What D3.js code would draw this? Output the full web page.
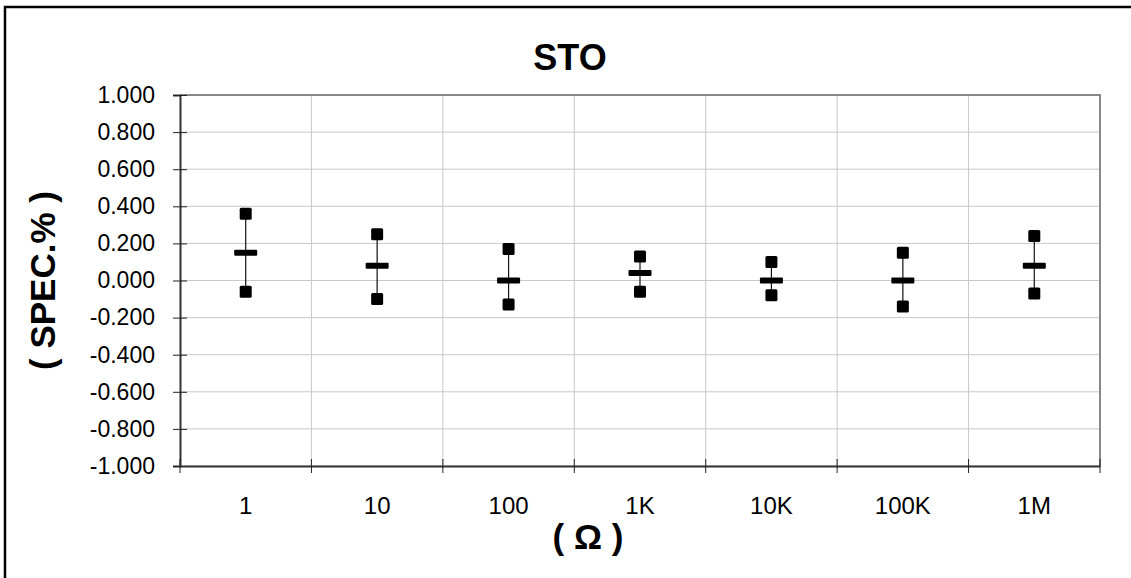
<!DOCTYPE html>
<html>
<head>
<meta charset="utf-8">
<script src="https://cdn.jsdelivr.net/npm/d3@7"></script>
<style>
  body { margin: 0; background: #fff; }
  svg { display: block; font-family: Arial, "Liberation Sans", sans-serif; }
</style>
</head>
<body>
<svg id="chart" width="1131" height="578"></svg>
<script>
const categories = ["1", "10", "100", "1K", "10K", "100K", "1M"];
const maxVals  = [0.36, 0.25, 0.17, 0.13, 0.10, 0.15, 0.24];
const meanVals = [0.15, 0.08, 0.00, 0.04, 0.00, 0.00, 0.08];
const minVals  = [-0.06, -0.10, -0.13, -0.06, -0.08, -0.14, -0.07];
const yTicks = [-1.0, -0.8, -0.6, -0.4, -0.2, 0.0, 0.2, 0.4, 0.6, 0.8, 1.0];

const svg = d3.select("#chart");
const margin = { left: 180, top: 95, right: 1100, bottom: 466 };

// outer frame
svg.append("rect")
   .attr("x", 5).attr("y", 7)
   .attr("width", 1150).attr("height", 600)
   .attr("fill", "none")
   .attr("stroke", "#000")
   .attr("stroke-width", 2.5);

const x = d3.scaleBand()
            .domain(categories)
            .range([margin.left, margin.right])
            .padding(0);
const y = d3.scaleLinear()
            .domain([-1, 1])
            .range([margin.bottom, margin.top]);

// horizontal grid
svg.append("g")
   .selectAll("line")
   .data(yTicks)
   .enter()
   .append("line")
   .attr("x1", margin.left).attr("x2", margin.right)
   .attr("y1", d => y(d)).attr("y2", d => y(d))
   .attr("stroke", "#c8c8c8")
   .attr("stroke-width", 1);

// vertical grid at category boundaries
svg.append("g")
   .selectAll("line")
   .data(categories.slice(1))
   .enter()
   .append("line")
   .attr("x1", d => x(d)).attr("x2", d => x(d))
   .attr("y1", margin.top).attr("y2", margin.bottom)
   .attr("stroke", "#c8c8c8")
   .attr("stroke-width", 1);

// top and right border (gray)
svg.append("path")
   .attr("d", `M${margin.left},${margin.top}H${margin.right}V${margin.bottom}`)
   .attr("fill", "none")
   .attr("stroke", "#888")
   .attr("stroke-width", 2);

// y axis
const fmt = d => d3.format(".3f")(d).replace("\u2212", "-");
const yAxis = svg.append("g")
   .attr("transform", `translate(${margin.left},0)`)
   .call(d3.axisLeft(y)
           .tickValues(yTicks)
           .tickFormat(fmt)
           .tickSize(7)
           .tickPadding(18));
yAxis.select(".domain").attr("stroke", "#333").attr("stroke-width", 2);
yAxis.selectAll(".tick line")
     .attr("x1", 7)
     .attr("stroke", "#222");
yAxis.selectAll(".tick text")
     .attr("font-size", 23)
     .attr("fill", "#000");

// x axis
const xAxis = svg.append("g")
   .attr("transform", `translate(0,${margin.bottom})`)
   .call(d3.axisBottom(x).tickSize(0).tickPadding(31));
xAxis.select(".domain").attr("stroke", "#333").attr("stroke-width", 2);
xAxis.selectAll(".tick text")
     .attr("font-size", 24)
     .attr("fill", "#000");

// x tick marks at boundaries
const bounds = categories.map(c => x(c)).concat([x.range()[1]]);
svg.append("g")
   .selectAll("line")
   .data(bounds)
   .enter()
   .append("line")
   .attr("x1", d => d).attr("x2", d => d)
   .attr("y1", margin.bottom - 7).attr("y2", margin.bottom + 7)
   .attr("stroke", "#222")
   .attr("stroke-width", 1);

// error bars
const pts = categories.map((c, i) => ({
  cat: c, max: maxVals[i], mean: meanVals[i], min: minVals[i]
}));
const cx = d => x(d.cat) + x.bandwidth() / 2;

const marks = svg.append("g");
marks.selectAll(".range")
     .data(pts)
     .enter()
     .append("line")
     .attr("class", "range")
     .attr("x1", cx).attr("x2", cx)
     .attr("y1", d => y(d.max)).attr("y2", d => y(d.min))
     .attr("stroke", "#111")
     .attr("stroke-width", 1.2);

const sq = 12;
["max", "min"].forEach(k => {
  marks.selectAll(".sq-" + k)
       .data(pts)
       .enter()
       .append("rect")
       .attr("class", "sq-" + k)
       .attr("x", d => cx(d) - sq / 2)
       .attr("y", d => y(d[k]) - sq / 2)
       .attr("width", sq).attr("height", sq)
       .attr("rx", 1.5)
       .attr("fill", "#000");
});

marks.selectAll(".mean")
     .data(pts)
     .enter()
     .append("rect")
     .attr("class", "mean")
     .attr("x", d => cx(d) - 11.5)
     .attr("y", d => y(d.mean) - 3)
     .attr("width", 23).attr("height", 6)
     .attr("rx", 1)
     .attr("fill", "#000");

// title and axis labels
svg.append("text")
   .attr("x", 570).attr("y", 70)
   .attr("text-anchor", "middle")
   .attr("font-size", 36)
   .attr("font-weight", "bold")
   .text("STO");

svg.append("text")
   .attr("transform", `translate(55,${(margin.top + margin.bottom) / 2}) rotate(-90)`)
   .attr("text-anchor", "middle")
   .attr("font-size", 35)
   .attr("font-weight", "bold")
   .text("( SPEC.% )");

svg.append("text")
   .attr("x", 588).attr("y", 549)
   .attr("text-anchor", "middle")
   .attr("font-size", 35)
   .attr("font-weight", "bold")
   .text("( Ω )");
</script>
</body>
</html>
